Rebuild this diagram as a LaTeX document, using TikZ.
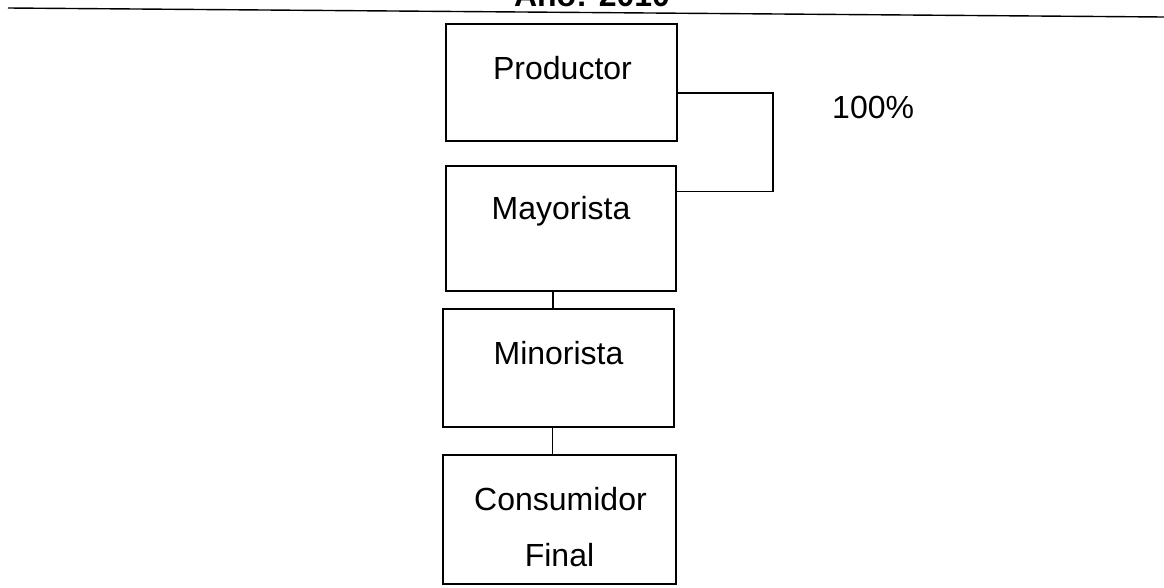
\documentclass[tikz,border=0pt]{standalone}
\usepackage{fontspec}
\setmainfont{Liberation Sans}
\usetikzlibrary{calc}
\begin{document}
\begin{tikzpicture}[x=1pt,y=-1pt,
  box/.style={draw=black,line width=1.5pt,inner sep=0pt,rectangle},
  lbl/.style={anchor=base,inner sep=0pt,font=\fontsize{32}{38}\selectfont},
  conn/.style={draw=black,line width=1.5pt}]
\useasboundingbox (0,0) rectangle (1164,587);
% title and rule
\node[lbl,font=\fontsize{32}{38}\selectfont\bfseries] (title) at (592,6) {Año: 2010};
\coordinate (ruleL) at (8,8);
\coordinate (ruleR) at (1164,17);
\draw[line width=1.4pt] (ruleL) -- (ruleR);
% boxes
\node[box,minimum width=231pt,minimum height=117pt] (pr) at (561.5,82.5) {};
\node[box,minimum width=230pt,minimum height=125pt] (ma) at (561,228.5) {};
\node[box,minimum width=231pt,minimum height=118pt] (mi) at (558.5,368) {};
\node[box,minimum width=233pt,minimum height=129pt] (co) at (559.5,519.5) {};
% texts
\node[lbl] (prt) at ($(pr.north)+(1,56)$) {Productor};
\node[lbl] (mat) at ($(ma.north)+(0,54)$) {Mayorista};
\node[lbl] (mit) at ($(mi.north)+(0,56)$) {Minorista};
\node[lbl] (cot1) at ($(co.north)+(1,56)$) {Consumidor};
\node[lbl] (cot2) at ($(co.north)+(0,112)$) {Final};
\node[lbl,anchor=base west] (pct) at (832,118) {100\%};
% connectors
\draw[conn] ($(pr.south east)+(0,-49)$) -- ++(95,0) |- ($(ma.north east)+(0,26)$);
\draw[conn] ([xshift=-8pt]ma.south) -- ([xshift=-8pt]ma.south |- mi.north);
\draw[conn] ([xshift=-6pt]mi.south) -- ([xshift=-6pt]mi.south |- co.north);
\end{tikzpicture}
\end{document}
